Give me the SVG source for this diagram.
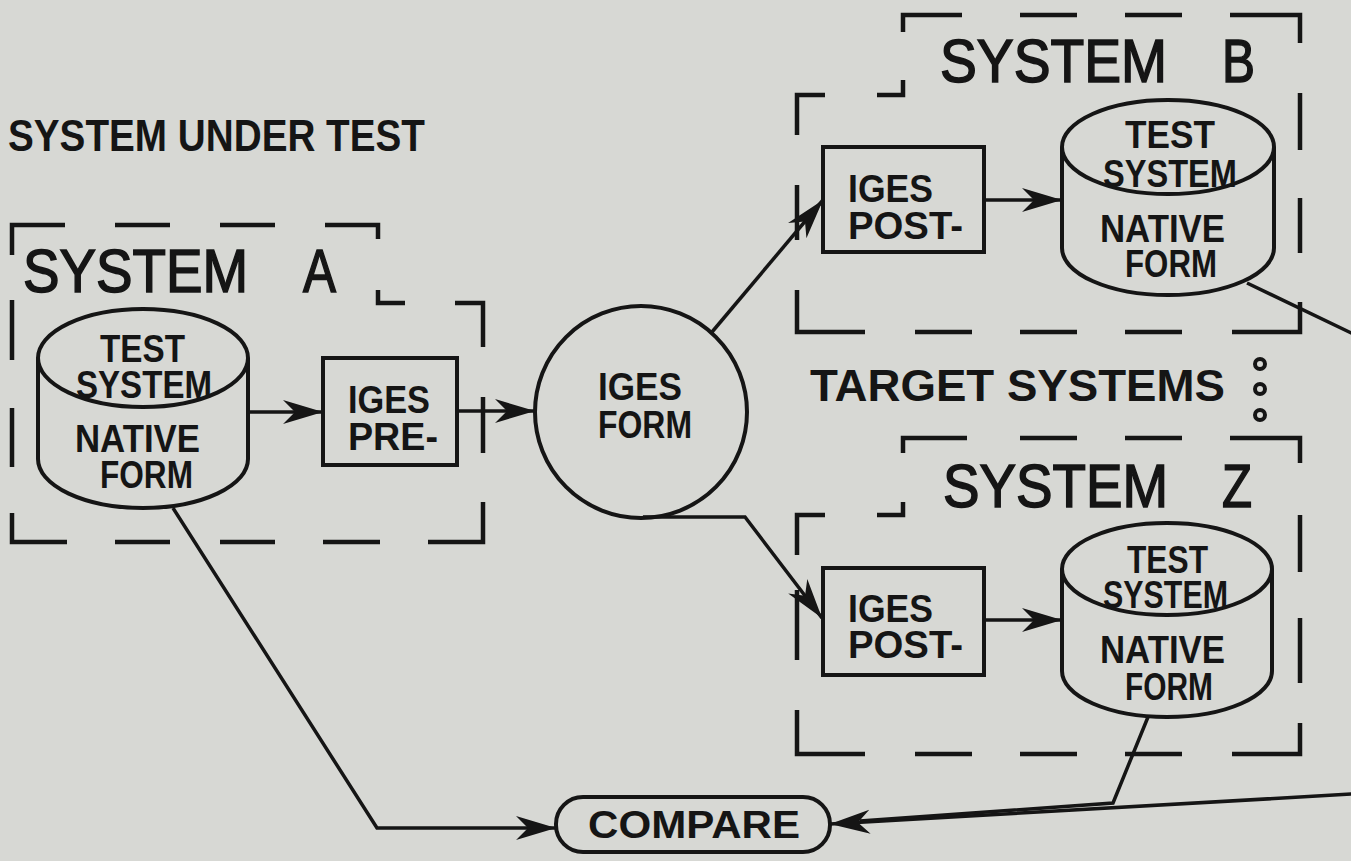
<svg xmlns="http://www.w3.org/2000/svg" width="1351" height="861" viewBox="0 0 1351 861">
<defs>
<style>
.bg{fill:#d7d8d4}
.bd{fill:none;stroke:#151515;stroke-width:4.5;stroke-linecap:butt;stroke-linejoin:miter}
.sh{fill:none;stroke:#151515;stroke-width:4}
.cn{fill:none;stroke:#151515;stroke-width:3.5}
.big{font-family:"Liberation Sans",Arial,sans-serif;font-size:62px;fill:#151515;stroke:#151515;stroke-width:1.6}
.hd{font-family:"Liberation Sans",Arial,sans-serif;font-weight:bold;font-size:44px;fill:#151515}
.lb{font-family:"Liberation Sans",Arial,sans-serif;font-weight:bold;font-size:38px;fill:#151515}
.dot{fill:none;stroke:#151515;stroke-width:4}
</style>
<marker id="arr" markerUnits="userSpaceOnUse" viewBox="-42 -14 44 28" refX="0" refY="0" markerWidth="44" markerHeight="28" orient="auto" overflow="visible">
<path d="M0,0 L-40,-12 L-28,0 L-40,12 Z" fill="#151515"/>
</marker>
</defs>
<rect class="bg" x="0" y="0" width="1351" height="861"/>

<text class="hd" x="8" y="151" textLength="417" lengthAdjust="spacingAndGlyphs">SYSTEM UNDER TEST</text>
<text class="hd" x="810" y="401" textLength="415" lengthAdjust="spacingAndGlyphs">TARGET SYSTEMS</text>
<g id="dots">
<circle class="dot" cx="1260" cy="364" r="5"/>
<circle class="dot" cx="1260" cy="389" r="5"/>
<circle class="dot" cx="1260" cy="415" r="5"/>
</g>

<g id="systemA">
<path class="bd" d="M12,255 V225 H65 M115,225 H170 M220,225 H275 M325,225 H378 V239 M378,290 V303 H405 M455,303 H483 V347 M483,397 V453 M483,502 V542 H428 M380,542 H323 M275,542 H220 M170,542 H115 M67,542 H12 V513 M12,467 V408 M12,360 V300"/>
<text class="big" y="292"><tspan x="23" textLength="225" lengthAdjust="spacingAndGlyphs">SYSTEM</tspan> <tspan x="303" textLength="33" lengthAdjust="spacingAndGlyphs">A</tspan></text>
</g>

<g id="cylA">
<path class="sh" d="M38,358 V459 A105,49 0 0 0 248,459 V358"/>
<ellipse class="sh" cx="143" cy="358" rx="105" ry="49"/>
<text class="lb" x="100" y="362" textLength="85" lengthAdjust="spacingAndGlyphs">TEST</text>
<text class="lb" x="76" y="398" textLength="136" lengthAdjust="spacingAndGlyphs">SYSTEM</text>
<text class="lb" x="75" y="452" textLength="125" lengthAdjust="spacingAndGlyphs">NATIVE</text>
<text class="lb" x="100" y="488" textLength="93" lengthAdjust="spacingAndGlyphs">FORM</text>
</g>

<g id="igesPre">
<rect class="sh" x="323" y="358" width="134" height="107"/>
<text class="lb" x="348" y="413" textLength="82" lengthAdjust="spacingAndGlyphs">IGES</text>
<text class="lb" x="348" y="450" textLength="90" lengthAdjust="spacingAndGlyphs">PRE-</text>
</g>

<g id="igesForm">
<circle class="sh" cx="641" cy="412" r="106"/>
<text class="lb" x="598" y="400" textLength="84" lengthAdjust="spacingAndGlyphs">IGES</text>
<text class="lb" x="598" y="438" textLength="94" lengthAdjust="spacingAndGlyphs">FORM</text>
</g>

<g id="systemB">
<path class="bd" d="M903,32 V15 H962 M1020,15 H1077 M1125,15 H1182 M1230,15 H1300 V43 M1300,93 V150 M1300,198 V253 M1300,302 V332 H1232 M1182,332 H1125 M1077,332 H1020 M972,332 H915 M865,332 H797 V290 M797,240 V185 M797,135 V95 H825 M877,95 H903 V80"/>
<text class="big" y="82"><tspan x="940" textLength="227" lengthAdjust="spacingAndGlyphs">SYSTEM</tspan> <tspan x="1222" textLength="33" lengthAdjust="spacingAndGlyphs">B</tspan></text>
</g>

<g id="postB">
<rect class="sh" x="823" y="147" width="161" height="105"/>
<text class="lb" x="848" y="202" textLength="85" lengthAdjust="spacingAndGlyphs">IGES</text>
<text class="lb" x="848" y="239" textLength="115" lengthAdjust="spacingAndGlyphs">POST-</text>
</g>

<g id="cylB">
<path class="sh" d="M1062,147 V248 A106,47 0 0 0 1274,248 V147"/>
<ellipse class="sh" cx="1168" cy="147" rx="106" ry="47"/>
<text class="lb" x="1125" y="148" textLength="90" lengthAdjust="spacingAndGlyphs">TEST</text>
<text class="lb" x="1103" y="187" textLength="134" lengthAdjust="spacingAndGlyphs">SYSTEM</text>
<text class="lb" x="1100" y="242" textLength="125" lengthAdjust="spacingAndGlyphs">NATIVE</text>
<text class="lb" x="1125" y="277" textLength="92" lengthAdjust="spacingAndGlyphs">FORM</text>
</g>

<g id="systemZ">
<path class="bd" d="M903,453 V438 H967 M1020,438 H1077 M1125,438 H1182 M1230,438 H1300 V463 M1300,515 V572 M1300,618 V683 M1300,723 V754 H1232 M1182,754 H1125 M1077,754 H1020 M972,754 H915 M865,754 H797 V710 M797,660 V590 M797,555 V515 H825 M877,515 H903 V502"/>
<text class="big" y="507"><tspan x="943" textLength="225" lengthAdjust="spacingAndGlyphs">SYSTEM</tspan> <tspan x="1222" textLength="30" lengthAdjust="spacingAndGlyphs">Z</tspan></text>
</g>

<g id="postZ">
<rect class="sh" x="823" y="568" width="161" height="107"/>
<text class="lb" x="848" y="622" textLength="85" lengthAdjust="spacingAndGlyphs">IGES</text>
<text class="lb" x="848" y="658" textLength="115" lengthAdjust="spacingAndGlyphs">POST-</text>
</g>

<g id="cylZ">
<path class="sh" d="M1062,569 V671 A105,46 0 0 0 1272,671 V569"/>
<ellipse class="sh" cx="1167" cy="569" rx="105" ry="46"/>
<text class="lb" x="1127" y="573" textLength="81" lengthAdjust="spacingAndGlyphs">TEST</text>
<text class="lb" x="1103" y="608" textLength="125" lengthAdjust="spacingAndGlyphs">SYSTEM</text>
<text class="lb" x="1100" y="663" textLength="125" lengthAdjust="spacingAndGlyphs">NATIVE</text>
<text class="lb" x="1125" y="700" textLength="88" lengthAdjust="spacingAndGlyphs">FORM</text>
</g>

<g id="compare">
<rect class="sh" x="556" y="797" width="274" height="55" rx="27" ry="27"/>
<text class="lb" x="588" y="838" font-size="43" textLength="212" lengthAdjust="spacingAndGlyphs">COMPARE</text>
</g>

<g id="connectors">
<path class="cn" d="M248,412 H323" marker-end="url(#arr)"/>
<path class="cn" d="M457,411 H535" marker-end="url(#arr)"/>
<path class="cn" d="M712,332 L823,200" marker-end="url(#arr)"/>
<path class="cn" d="M643,517 H745 L822,618" marker-end="url(#arr)"/>
<path class="cn" d="M984,200 H1062" marker-end="url(#arr)"/>
<path class="cn" d="M984,620 H1062" marker-end="url(#arr)"/>
<path class="cn" d="M173,508 L377,828 H556" marker-end="url(#arr)"/>
<path class="cn" d="M1247,283 L1370,342 V793 L830,824" marker-end="url(#arr)"/>
<path class="cn" d="M1148,717 L1113,803 L860,821"/>
</g>
</svg>
